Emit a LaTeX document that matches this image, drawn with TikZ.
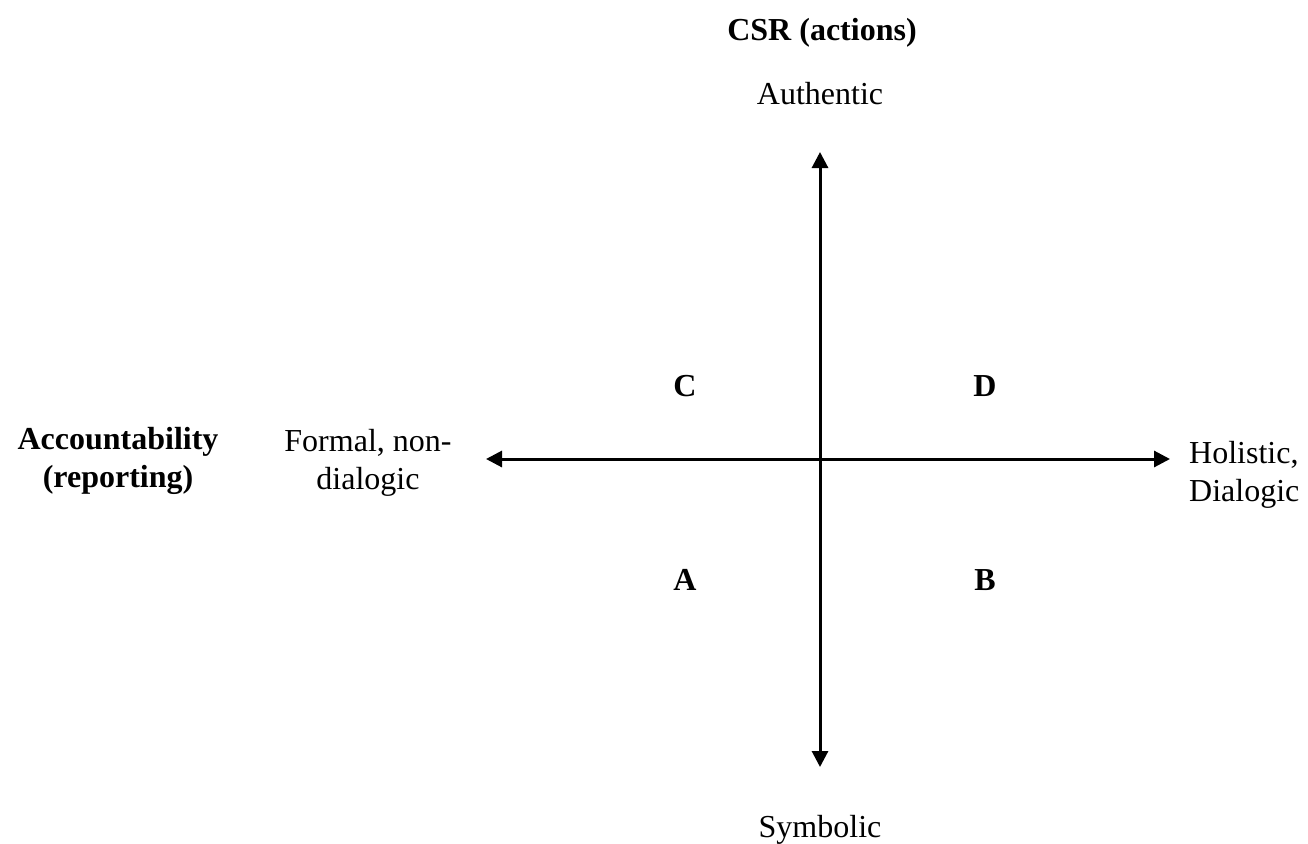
\documentclass[tikz,border=0pt]{standalone}
\usepackage{fontspec}
\setmainfont{Liberation Serif}
\usetikzlibrary{arrows.meta}
\tikzset{
  lbl/.style={font=\fontsize{32}{38}\selectfont, inner sep=0pt, align=center},
  bold/.style={lbl, font=\fontsize{32}{38}\selectfont\bfseries},
  axis/.style={line width=3pt, {Triangle[length=16pt,width=16pt]}-{Triangle[length=16pt,width=16pt]}}
}
\begin{document}
\begin{tikzpicture}[x=1pt,y=-1pt]
\useasboundingbox (0,0) rectangle (1308,843);
\coordinate (top) at (820,152);
\coordinate (bot) at (820,767);
\coordinate (left) at (486,459);
\coordinate (right) at (1170,459);
\draw[axis] (bot) -- (top);
\draw[axis] (left) -- (right);
\node[bold] (csr) at (822,33) {CSR (actions)};
\node[lbl] (auth) at (820,94) {Authentic};
\node[lbl] (sym) at (820,830) {Symbolic};
\node[bold] (C) at (685,386) {C};
\node[bold] (D) at (985,386) {D};
\node[bold] (A) at (685,580) {A};
\node[bold] (B) at (985,580) {B};
\node[bold] (acc) at (118,461) {Accountability\\(reporting)};
\node[lbl] (formal) at (368,463) {Formal, non-\\dialogic};
\node[lbl, align=left, anchor=west] (hol) at (1189,475) {Holistic,\\Dialogic};
\end{tikzpicture}
\end{document}
